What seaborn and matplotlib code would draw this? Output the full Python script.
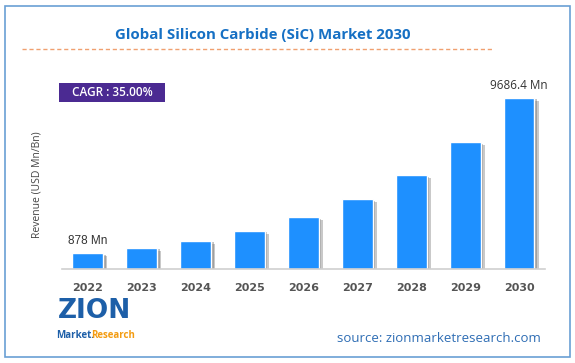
import numpy as np
import pandas as pd
import matplotlib
matplotlib.use('Agg')
import matplotlib.pyplot as plt
import matplotlib.patheffects as pe
from matplotlib.patches import Rectangle
import seaborn as sns

# 数据
years = ['2022', '2023', '2024', '2025', '2026', '2027', '2028', '2029', '2030']
revenue = [878, 1185, 1600, 2160, 2916, 3937, 5315, 7175, 9686.4]
first_label = '878 Mn'
last_label = '9686.4 Mn'
cagr_text = 'CAGR : 35.00%'

df = pd.DataFrame({'year': years, 'revenue': revenue})

sns.set_style('white')
plt.rcParams['font.family'] = ['Open Sans', 'DejaVu Sans']

W, H = 575, 363
fig = plt.figure(figsize=(W / 100, H / 100), dpi=100)

def fx(px):
    return px / W

def fy(py):
    return 1 - py / H

# 外框
fig.patches.append(Rectangle((fx(5), fy(357)), fx(565), (357 - 6) / H,
                             transform=fig.transFigure, fill=False,
                             edgecolor='#6a9fd4', linewidth=1.2))

ax = fig.add_axes([fx(62), fy(269), fx(483), (269 - 80) / H])
sns.barplot(data=df, x='year', y='revenue', color='#1e90ff', saturation=1,
            width=0.57, ax=ax)
for p in ax.patches:
    p.set_path_effects([pe.SimplePatchShadow(offset=(3, -2), shadow_rgbFace='#666666', alpha=0.35),
                        pe.SimplePatchShadow(offset=(2, -1), shadow_rgbFace='#555555', alpha=0.35),
                        pe.Normal()])

ax.set_xlim(-0.472, 8.48)
ax.set_ylim(0, 10700)
ax.set_yticks([])
ax.set_xlabel('')
ax.set_ylabel('')
for s in ['top', 'right', 'left']:
    ax.spines[s].set_visible(False)
ax.spines['bottom'].set_color('#d0d0d0')
ax.spines['bottom'].set_linewidth(1.2)
ax.tick_params(axis='x', length=0, pad=10)
for t in ax.get_xticklabels():
    t.set_fontfamily('DejaVu Sans')
    t.set_fontweight('bold')
    t.set_fontsize(8)
    t.set_color('#555555')

ax.text(0, revenue[0] + 350, first_label, ha='center', va='bottom',
        fontsize=8.5, color='#333333', family='Liberation Sans')
ax.text(8, revenue[-1] + 350, last_label, ha='center', va='bottom',
        fontsize=8.5, color='#333333')

fig.text(fx(37), fy(185), 'Revenue (USD Mn/Bn)', rotation=90, ha='center', va='center',
         fontsize=7.5, color='#444444')

# 标题
fig.text(fx(263), fy(35), 'Global Silicon Carbide (SiC) Market 2030', ha='center', va='center',
         fontsize=10.8, fontweight='bold', color='#1670c4')
fig.lines.append(plt.Line2D([fx(22), fx(493)], [fy(49), fy(49)], transform=fig.transFigure,
                            color='#f0a070', linestyle=(0, (3, 2)), linewidth=1))

# CAGR 标签
fig.patches.append(Rectangle((fx(59), fy(102)), fx(106), 19 / H, transform=fig.transFigure,
                             facecolor='#4b2a92', edgecolor='none'))
fig.text(fx(112), fy(92.5), cagr_text, ha='center', va='center', fontsize=8.5,
         color='white', fontweight='semibold')

# Logo
fig.text(fx(58), fy(311), 'ZION', ha='left', va='center', fontsize=19, fontweight='bold',
         color='#1d5fa8', family='DejaVu Sans')
fig.text(fx(56), fy(335), 'Market.', ha='left', va='center', fontsize=7, fontweight='bold',
         color='#1d5fa8')
fig.text(fx(91), fy(335), 'Research', ha='left', va='center', fontsize=7, fontweight='bold',
         color='#f39c12')

fig.text(fx(541), fy(339), 'source: zionmarketresearch.com', ha='right', va='center',
         fontsize=9.5, color='#2e6db4')

fig.savefig('out.png', dpi=100)
